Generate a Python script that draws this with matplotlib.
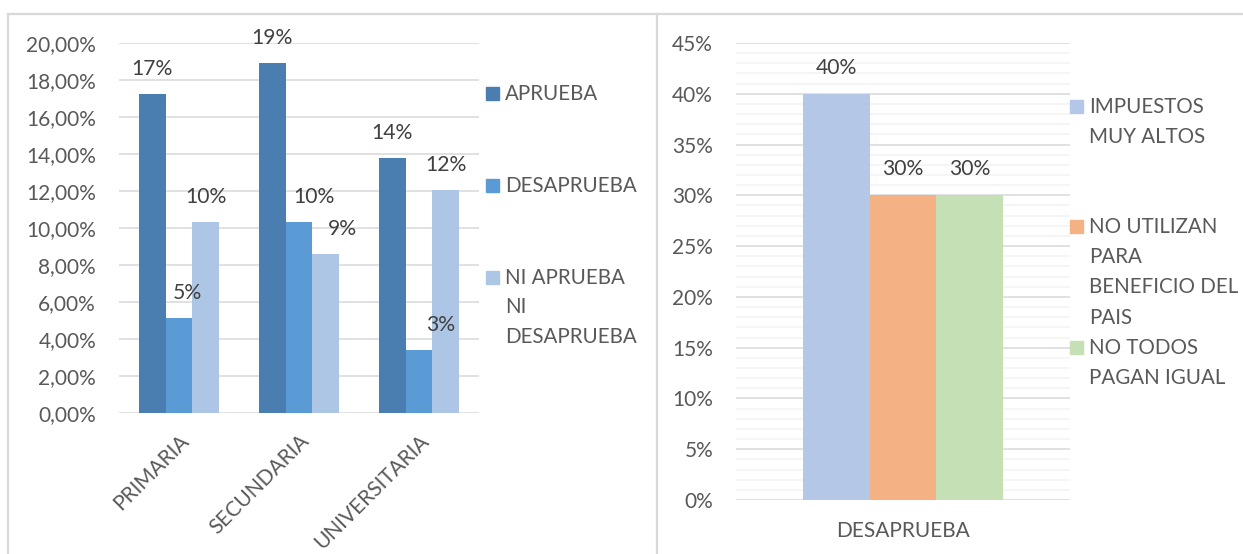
import numpy as np
import matplotlib
matplotlib.use("Agg")
import matplotlib.pyplot as plt
from matplotlib.patches import Rectangle
from matplotlib.lines import Line2D

# data, left chart
niveles = ["PRIMARIA", "SECUNDARIA", "UNIVERSITARIA"]
series_izq = ["APRUEBA", "DESAPRUEBA", "NI APRUEBA\nNI\nDESAPRUEBA"]
aprueba = [0.1723, 0.1894, 0.1378]
desaprueba = [0.0514, 0.1032, 0.0341]
ni_aprueba = [0.1032, 0.0859, 0.1203]

# data, right chart
categoria_der = ["DESAPRUEBA"]
series_der = ["IMPUESTOS\nMUY ALTOS", "NO UTILIZAN\nPARA\nBENEFICIO DEL\nPAIS", "NO TODOS\nPAGAN IGUAL"]
motivos = [0.40, 0.30, 0.30]

W, H = 1243, 554
plt.rcParams['font.family'] = ['Lato', 'DejaVu Sans']
fig = plt.figure(figsize=(W / 100, H / 100), dpi=100)

def fx(x):
    return x / W

def fy(y):
    return 1 - y / H

grid_c = "#d9d9d9"
tick_c = "#595959"
lab_c = "#404040"
fs_tick = 15
fs_leg = 14.8
fs_lab = 15.2

# panel borders
for x0, y0, x1, y1 in [(8, 14, W, 14), (8, 14, 8, H), (657, 14, 657, H)]:
    fig.add_artist(Line2D([fx(x0), fx(x1)], [fy(y0), fy(y1)], color=grid_c, lw=1.6,
                          transform=fig.transFigure))

# ---- left chart ----
ax = fig.add_axes([fx(119), fy(413), fx(479) - fx(119), fy(43) - fy(413)])
colors_izq = ["#4a7eb1", "#5b9bd5", "#adc6e6"]
width = 0.2222
x = np.arange(len(niveles))
# label x offsets (pixels), some labels were nudged in the original
offs = [[0, 8, 0], [0, 15, 17], [0, 22, 0]]
for i, vals in enumerate([aprueba, desaprueba, ni_aprueba]):
    bars = ax.bar(x + (i - 1) * width, vals, width, color=colors_izq[i], zorder=2)
    for j, b in enumerate(bars):
        ax.annotate("%d%%" % round(vals[j] * 100),
                    (b.get_x() + b.get_width() / 2, b.get_height()),
                    xytext=(offs[j][i], 25), textcoords="offset pixels",
                    ha="center", va="center", fontsize=fs_lab, color=lab_c)
ax.set_xlim(-0.5, 2.5)
ax.set_ylim(0, 0.20)
ax.set_yticks(np.arange(0, 0.201, 0.02))
ax.set_yticklabels([("%.2f%%" % (v * 100)).replace(".", ",") for v in np.arange(0, 0.201, 0.02)])
ax.set_xticks(x)
ax.set_xticklabels(niveles, rotation=45, ha="right", rotation_mode="anchor")
ax.yaxis.grid(True, color=grid_c, lw=1.1, zorder=0)
for s in ax.spines.values():
    s.set_visible(False)
ax.tick_params(length=0, colors=tick_c, labelsize=fs_tick)
ax.tick_params(axis="y", pad=16.5)
ax.tick_params(axis="x", pad=13)

for k, name in enumerate(series_izq):
    ty = 93 + k * 92
    fig.add_artist(Rectangle((fx(486), fy(ty + 7)), fx(13), 13 / H, color=colors_izq[k],
                             transform=fig.transFigure))
    fig.text(fx(505), fy(ty - 9), name, va="top", ha="left", fontsize=fs_leg,
             color=tick_c, linespacing=1.58)

# ---- right chart ----
ax2 = fig.add_axes([fx(736), fy(500), fx(1070) - fx(736), fy(43) - fy(500)])
colors_der = ["#b4c7e7", "#f4b183", "#c5e0b4"]
w2 = 0.2
for i, v in enumerate(motivos):
    b = ax2.bar([(i - 1) * w2], [v], w2, color=colors_der[i], zorder=2)[0]
    ax2.annotate("%d%%" % round(v * 100), (b.get_x() + w2 / 2, v), xytext=(0, 26),
                 textcoords="offset pixels", ha="center", va="center",
                 fontsize=fs_lab, color=lab_c)
ax2.set_xlim(-0.5, 0.5)
ax2.set_ylim(0, 0.45)
ax2.set_yticks(np.arange(0, 0.451, 0.05))
ax2.set_yticklabels(["%d%%" % round(v * 100) for v in np.arange(0, 0.451, 0.05)])
ax2.set_yticks(np.arange(0, 0.451, 0.01), minor=True)
ax2.set_xticks([0])
ax2.set_xticklabels(categoria_der)
ax2.yaxis.grid(True, which="minor", color="#f2f2f2", lw=1.1, zorder=0)
ax2.yaxis.grid(True, which="major", color=grid_c, lw=1.1, zorder=1)
for s in ax2.spines.values():
    s.set_visible(False)
ax2.tick_params(which="both", length=0, colors=tick_c, labelsize=fs_tick)
ax2.tick_params(axis="y", pad=16.5)
ax2.tick_params(axis="x", pad=15)

for name, ty, c in zip(series_der, [106, 226, 347], colors_der):
    fig.add_artist(Rectangle((fx(1070), fy(ty + 7)), fx(13), 13 / H, color=c,
                             transform=fig.transFigure))
    fig.text(fx(1089), fy(ty - 9), name, va="top", ha="left", fontsize=fs_leg,
             color=tick_c, linespacing=1.64)

fig.savefig("out.png", dpi=100)
